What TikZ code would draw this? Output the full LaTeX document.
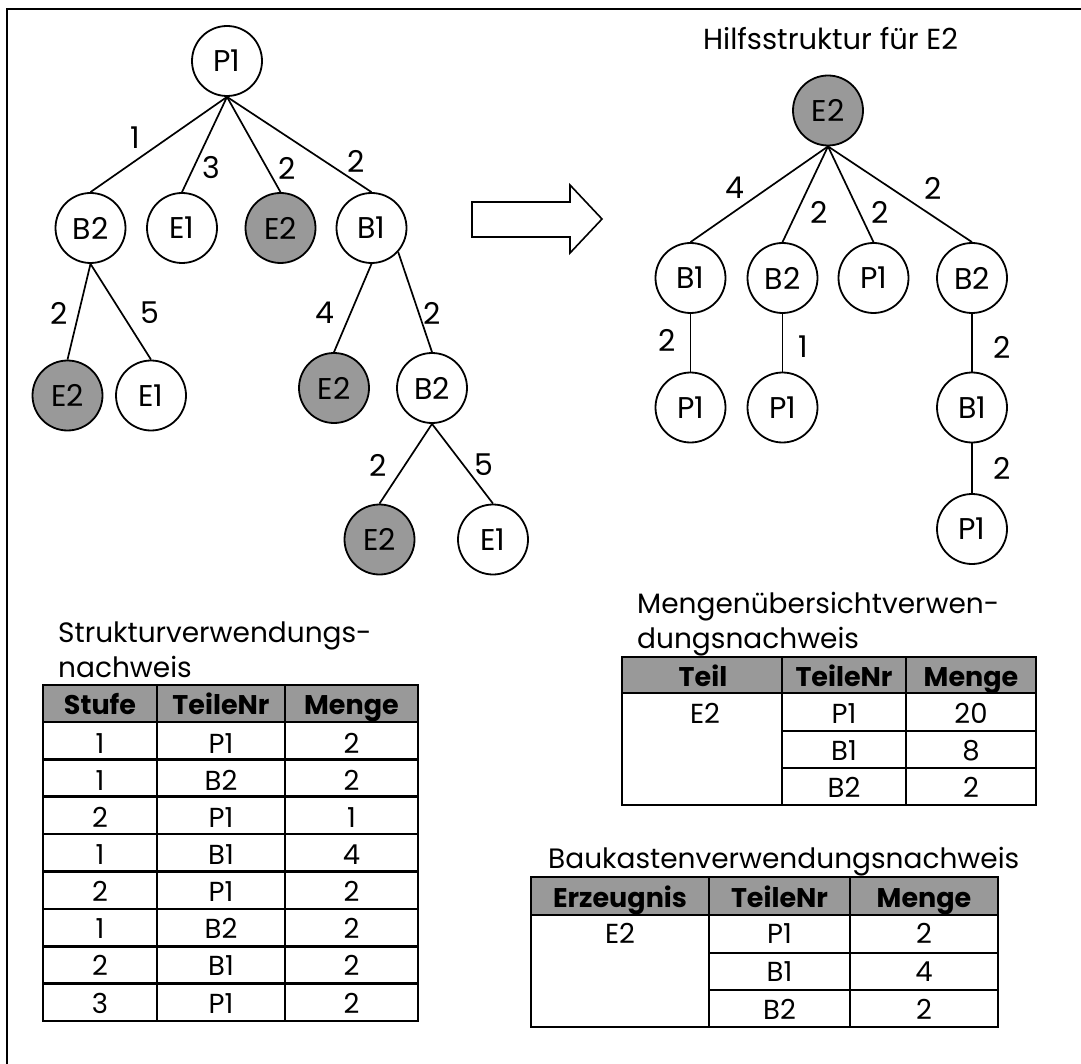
\documentclass[tikz,border=0pt]{standalone}
\usepackage{fontspec}
\setmainfont{Poppins}
\definecolor{gfill}{RGB}{153,153,153}
\begin{document}
\begin{tikzpicture}[x=1pt,y=-1pt,
  nd/.style={circle, draw, line width=1.8pt, minimum size=70pt, inner sep=0pt, fill=white, font=\fontsize{30}{31}\selectfont},
  gnd/.style={nd, fill=gfill},
  edge/.style={line width=1.7pt},
  lbl/.style={inner sep=0pt, font=\fontsize{30}{31}\selectfont},
  ttl/.style={inner sep=0pt, font=\fontsize{28}{32}\selectfont},
  tc/.style={inner sep=0pt, anchor=base, font=\fontsize{27.5}{30}\selectfont},
  th/.style={inner sep=0pt, anchor=base, font=\fontsize{27}{30}\selectfont\bfseries},
  tl/.style={line width=2.6pt},
  frame/.style={line width=2pt}]
\useasboundingbox (0,0) rectangle (1081,1064);
% frame
\draw[frame] (1081,9) -- (7,9) -- (7,1064);

% ---------- left tree ----------
\node[nd]  (P1)  at (227,61)     {P1};
\node[nd]  (B2a) at (90.5,228)   {B2};
\node[nd]  (E1a) at (182,228)    {E1};
\node[gnd] (E2a) at (280.5,228)  {E2};
\node[nd]  (B1a) at (371.5,228)  {B1};
\node[gnd] (E2b) at (67.5,395.5) {E2};
\node[nd]  (E1b) at (151,395.5)  {E1};
\node[gnd] (E2c) at (334,388)    {E2};
\node[nd]  (B2b) at (432,388)    {B2};
\node[gnd] (E2d) at (379.5,539.5){E2};
\node[nd]  (E1c) at (493,539.5)  {E1};

\draw[edge] (P1.south) -- (B2a.north);
\draw[edge] (P1.south) -- (E1a.north);
\draw[edge] (P1.south) -- (E2a.north);
\draw[edge] (P1.south) -- (B1a.north);
\draw[edge] (B2a.south) -- (E2b.north);
\draw[edge] (B2a.south) -- (E1b.north);
\draw[edge] (B1a.south) -- (E2c.north);
\draw[edge] (B1a.-42) -- (B2b.north);
\draw[edge] (B2b.south) -- (E2d.north);
\draw[edge] (B2b.south) -- (E1c.north);

\node[lbl] (l1) at (135,138) {1};
\node[lbl] (l2) at (211,168) {3};
\node[lbl] (l3) at (287,168) {2};
\node[lbl] (l4) at (356,161) {2};
\node[lbl] (l5) at (59,313)  {2};
\node[lbl] (l6) at (150,313) {5};
\node[lbl] (l7) at (325,313) {4};
\node[lbl] (l8) at (432,313) {2};
\node[lbl] (l9) at (378,465) {2};
\node[lbl] (l10) at (484,465) {5};

% ---------- arrow ----------
\draw[line width=1.6pt] (472,202) -- (570,202) -- (570,185) -- (602,219) -- (570,253) -- (570,237) -- (472,237) -- cycle;

% ---------- right tree ----------
\node[lbl, anchor=base, font=\fontsize{29}{31}\selectfont] (htitle) at (830.5,50) {Hilfsstruktur für E2};
\node[gnd] (E2r) at (828,110.5)  {E2};
\node[nd]  (B1r) at (690.5,278)  {B1};
\node[nd]  (B2r) at (782.5,278)  {B2};
\node[nd]  (P1r) at (873.5,278)  {P1};
\node[nd]  (B2s) at (972,278)    {B2};
\node[nd]  (P1s) at (690.5,407.5){P1};
\node[nd]  (P1t) at (782.5,407.5){P1};
\node[nd]  (B1s) at (972,407.5)  {B1};
\node[nd]  (P1u) at (972,529)    {P1};

\draw[edge] (E2r.south) -- (B1r.north);
\draw[edge] (E2r.south) -- (B2r.north);
\draw[edge] (E2r.south) -- (P1r.north);
\draw[edge] (E2r.south) -- (B2s.north);
\draw[edge] (B1r.south) -- (P1s.north);
\draw[edge] (B2r.south) -- (P1t.north);
\draw[edge] (B2s.south) -- (B1s.north);
\draw[edge] (B1s.south) -- (P1u.north);

\node[lbl] (r1) at (735,188)  {4};
\node[lbl] (r2) at (819,212)  {2};
\node[lbl] (r3) at (880,212)  {2};
\node[lbl] (r4) at (933,188)  {2};
\node[lbl] (r5) at (667,340)  {2};
\node[lbl] (r6) at (803,347)  {1};
\node[lbl] (r7) at (1002,347) {2};
\node[lbl] (r8) at (1002,468) {2};

% ---------- Strukturverwendungsnachweis ----------
\node[ttl, anchor=base west] (t1a) at (58,642) {Strukturverwendungs-};
\node[ttl, anchor=base west] (t1b) at (58,677) {nachweis};
\fill[gfill] (43,685) rectangle (418,722);
\draw[tl] (43,685) rectangle (418,1021);
\foreach \y in {722,759.375,796.75,834.125,871.5,908.875,946.25,983.625}
  \draw[tl] (43,\y) -- (418,\y);
\draw[tl] (157,685) -- (157,1021);
\draw[tl] (285,685) -- (285,1021);
\node[th] (sh1) at (100,714)   {Stufe};
\node[th] (sh2) at (221,714)   {TeileNr};
\node[th] (sh3) at (351.5,714) {Menge};
\foreach \a/\b/\c [count=\i from 0] in {1/P1/2, 1/B2/2, 2/P1/1, 1/B1/4, 2/P1/2, 1/B2/2, 2/B1/2, 3/P1/2}{
  \pgfmathsetmacro\yb{753+37.15*\i}
  \node[tc] (sa\i) at (100,\yb)   {\a};
  \node[tc] (sb\i) at (221,\yb)   {\b};
  \node[tc] (sc\i) at (351.5,\yb) {\c};
}

% ---------- Mengenuebersichtverwendungsnachweis ----------
\node[ttl, anchor=base west] (t2a) at (637,613) {Mengenübersichtverwen-};
\node[ttl, anchor=base west] (t2b) at (637,648) {dungsnachweis};
\fill[gfill] (622,657) rectangle (1036,693);
\draw[tl] (622,657) rectangle (1036,805);
\draw[tl] (622,693) -- (1036,693);
\draw[tl] (782,731) -- (1036,731);
\draw[tl] (782,768) -- (1036,768);
\draw[tl] (782,657) -- (782,805);
\draw[tl] (906,657) -- (906,805);
\node[th] (mh1) at (703,686) {Teil};
\node[th] (mh2) at (844,686) {TeileNr};
\node[th] (mh3) at (971,686) {Menge};
\node[tc] (m0) at (705,723) {E2};
\node[tc] (m1) at (844,723) {P1};
\node[tc] (m2) at (971,723) {20};
\node[tc] (m3) at (844,760) {B1};
\node[tc] (m4) at (971,760) {8};
\node[tc] (m5) at (844,797) {B2};
\node[tc] (m6) at (971,797) {2};

% ---------- Baukastenverwendungsnachweis ----------
\node[ttl, anchor=base west] (t3) at (548,868) {Baukastenverwendungsnachweis};
\fill[gfill] (531,877) rectangle (998,915);
\draw[tl] (531,877) rectangle (998,1027);
\draw[tl] (531,915) -- (998,915);
\draw[tl] (709,953) -- (998,953);
\draw[tl] (709,990) -- (998,990);
\draw[tl] (709,877) -- (709,1027);
\draw[tl] (850,877) -- (850,1027);
\node[th] (bh1) at (620,907)   {Erzeugnis};
\node[th] (bh2) at (779.5,907) {TeileNr};
\node[th] (bh3) at (924,907)   {Menge};
\node[tc] (b0) at (620,943)   {E2};
\node[tc] (b1) at (779.5,943) {P1};
\node[tc] (b2) at (924,943)   {2};
\node[tc] (b3) at (779.5,981) {B1};
\node[tc] (b4) at (924,981)   {4};
\node[tc] (b5) at (779.5,1019){B2};
\node[tc] (b6) at (924,1019)  {2};
\end{tikzpicture}
\end{document}
